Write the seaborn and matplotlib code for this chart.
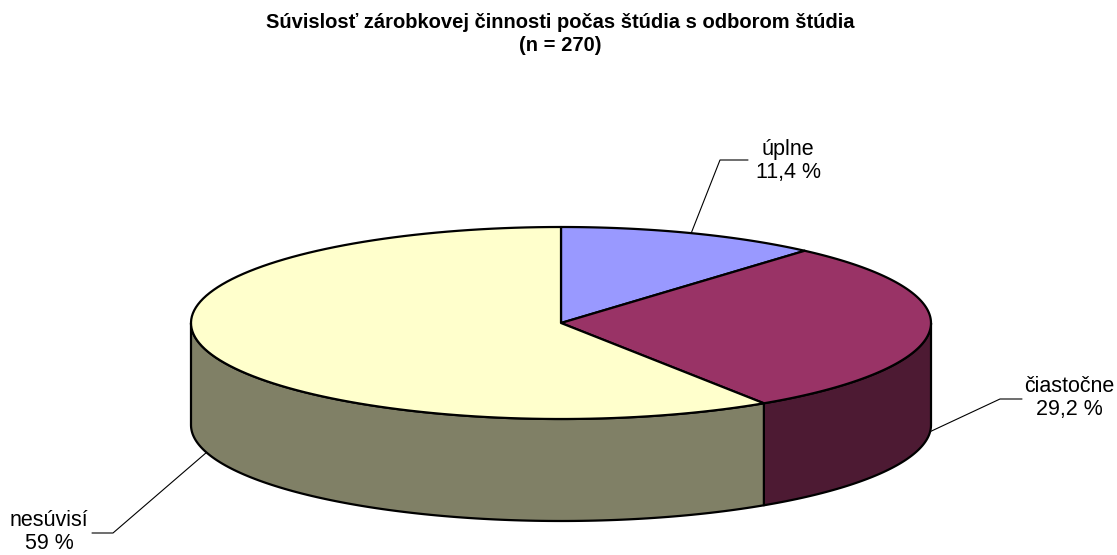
import numpy as np
import matplotlib
matplotlib.use("Agg")
import matplotlib.pyplot as plt
from matplotlib.patches import Polygon
import seaborn as sns

# data
categories = ["úplne", "čiastočne", "nesúvisí"]
shares = [11.4, 29.2, 59.0]
value_labels = ["11,4 %", "29,2 %", "59 %"]
colors = ["#9999FF", "#993366", "#FFFFCC"]
title = "Súvislosť zárobkovej činnosti počas štúdia s odborom štúdia\n(n = 270)"

sns.set_theme(style="white")
plt.rcParams["font.family"] = ["Liberation Sans", "DejaVu Sans"]

# pie geometry in pixel space
cx, cy = 561, 323
ra, rb = 370, 96
depth = 102


def arc(t0, t1, dz=0, n=120):
    t = np.radians(np.linspace(t0, t1, n))
    return np.column_stack([cx + ra * np.cos(t), cy - rb * np.sin(t) + dz])


fig = plt.figure(figsize=(11.17, 5.55), dpi=100)
ax = fig.add_axes([0, 0, 1, 1])
ax.set_xlim(0, 1117)
ax.set_ylim(555, 0)
ax.axis("off")

# slice angles, clockwise from 12 o'clock (normalised to the total)
total = sum(shares)
starts, ends = [], []
a = 90.0
for v in shares:
    starts.append(a)
    a -= v / total * 360
    ends.append(a)

# side walls (front half only)
for s, e, c in zip(starts, ends, colors):
    lo, hi = max(e, -180), min(s, 0)
    if lo < hi:
        dark = tuple(0.5 * x for x in matplotlib.colors.to_rgb(c))
        pts = np.vstack([arc(hi, lo), arc(lo, hi, depth)])
        ax.add_patch(Polygon(pts, closed=True, fc=dark, ec="black", lw=1.6, joinstyle="round"))

# top wedges
for s, e, c in zip(starts, ends, colors):
    pts = np.vstack([[cx, cy], arc(s, e)])
    ax.add_patch(Polygon(pts, closed=True, fc=c, ec="black", lw=1.6, joinstyle="round"))

# labels with leader lines
label_pos = [(788, 161), (1069, 398), (49, 532)]
elbows = [(720, 160, 748), (1000, 399, 1022), (113, 533, 92)]
for s, e, cat, vl, (tx, ty), (ex, ey, hx) in zip(starts, ends, categories, value_labels, label_pos, elbows):
    mid = (s + e) / 2
    dz = depth if np.sin(np.radians(mid)) < 0 else 0
    px, py = arc(mid, mid, dz, n=1)[0]
    ax.plot([px, ex, hx], [py, ey, ey], color="black", lw=0.8)
    ax.text(tx, ty, f"{cat}\n{vl}", ha="center", va="center", fontsize=15.5,
            linespacing=1.1, color="black")

ax.text(560, 34, title, ha="center", va="center", fontsize=14.5,
        fontweight="bold", linespacing=1.25, color="black")

fig.savefig("out.png", dpi=100)
